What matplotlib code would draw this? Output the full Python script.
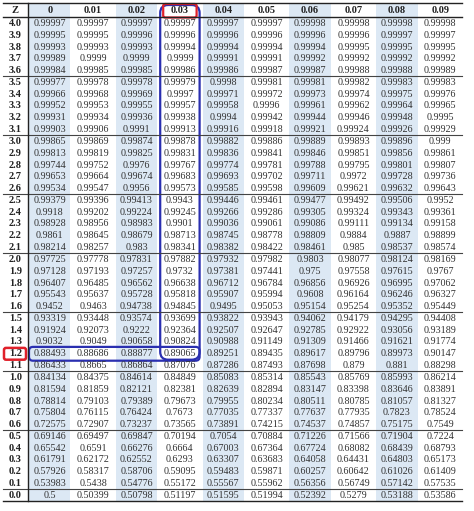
import matplotlib.pyplot as plt
from matplotlib.patches import Rectangle, FancyBboxPatch

col_labels = ["0", "0.01", "0.02", "0.03", "0.04", "0.05", "0.06", "0.07", "0.08", "0.09"]
z_labels = ["4.0", "3.9", "3.8", "3.7", "3.6", "3.5", "3.4", "3.3", "3.2", "3.1",
            "3.0", "2.9", "2.8", "2.7", "2.6", "2.5", "2.4", "2.3", "2.2", "2.1",
            "2.0", "1.9", "1.8", "1.7", "1.6", "1.5", "1.4", "1.3", "1.2", "1.1",
            "1.0", "0.9", "0.8", "0.7", "0.6", "0.5", "0.4", "0.3", "0.2", "0.1", "0.0"]

rows = [
    [0.99997, 0.99997, 0.99997, 0.99997, 0.99997, 0.99997, 0.99998, 0.99998, 0.99998, 0.99998],
    [0.99995, 0.99995, 0.99996, 0.99996, 0.99996, 0.99996, 0.99996, 0.99996, 0.99997, 0.99997],
    [0.99993, 0.99993, 0.99993, 0.99994, 0.99994, 0.99994, 0.99994, 0.99995, 0.99995, 0.99995],
    [0.99989, 0.99990, 0.99990, 0.99990, 0.99991, 0.99991, 0.99992, 0.99992, 0.99992, 0.99992],
    [0.99984, 0.99985, 0.99985, 0.99986, 0.99986, 0.99987, 0.99987, 0.99988, 0.99988, 0.99989],
    [0.99977, 0.99978, 0.99978, 0.99979, 0.99980, 0.99981, 0.99981, 0.99982, 0.99983, 0.99983],
    [0.99966, 0.99968, 0.99969, 0.99970, 0.99971, 0.99972, 0.99973, 0.99974, 0.99975, 0.99976],
    [0.99952, 0.99953, 0.99955, 0.99957, 0.99958, 0.99960, 0.99961, 0.99962, 0.99964, 0.99965],
    [0.99931, 0.99934, 0.99936, 0.99938, 0.99940, 0.99942, 0.99944, 0.99946, 0.99948, 0.99950],
    [0.99903, 0.99906, 0.99910, 0.99913, 0.99916, 0.99918, 0.99921, 0.99924, 0.99926, 0.99929],
    [0.99865, 0.99869, 0.99874, 0.99878, 0.99882, 0.99886, 0.99889, 0.99893, 0.99896, 0.99900],
    [0.99813, 0.99819, 0.99825, 0.99831, 0.99836, 0.99841, 0.99846, 0.99851, 0.99856, 0.99861],
    [0.99744, 0.99752, 0.99760, 0.99767, 0.99774, 0.99781, 0.99788, 0.99795, 0.99801, 0.99807],
    [0.99653, 0.99664, 0.99674, 0.99683, 0.99693, 0.99702, 0.99711, 0.99720, 0.99728, 0.99736],
    [0.99534, 0.99547, 0.99560, 0.99573, 0.99585, 0.99598, 0.99609, 0.99621, 0.99632, 0.99643],
    [0.99379, 0.99396, 0.99413, 0.99430, 0.99446, 0.99461, 0.99477, 0.99492, 0.99506, 0.99520],
    [0.99180, 0.99202, 0.99224, 0.99245, 0.99266, 0.99286, 0.99305, 0.99324, 0.99343, 0.99361],
    [0.98928, 0.98956, 0.98983, 0.99010, 0.99036, 0.99061, 0.99086, 0.99111, 0.99134, 0.99158],
    [0.98610, 0.98645, 0.98679, 0.98713, 0.98745, 0.98778, 0.98809, 0.98840, 0.98870, 0.98899],
    [0.98214, 0.98257, 0.98300, 0.98341, 0.98382, 0.98422, 0.98461, 0.98500, 0.98537, 0.98574],
    [0.97725, 0.97778, 0.97831, 0.97882, 0.97932, 0.97982, 0.98030, 0.98077, 0.98124, 0.98169],
    [0.97128, 0.97193, 0.97257, 0.97320, 0.97381, 0.97441, 0.97500, 0.97558, 0.97615, 0.97670],
    [0.96407, 0.96485, 0.96562, 0.96638, 0.96712, 0.96784, 0.96856, 0.96926, 0.96995, 0.97062],
    [0.95543, 0.95637, 0.95728, 0.95818, 0.95907, 0.95994, 0.96080, 0.96164, 0.96246, 0.96327],
    [0.94520, 0.94630, 0.94738, 0.94845, 0.94950, 0.95053, 0.95154, 0.95254, 0.95352, 0.95449],
    [0.93319, 0.93448, 0.93574, 0.93699, 0.93822, 0.93943, 0.94062, 0.94179, 0.94295, 0.94408],
    [0.91924, 0.92073, 0.92220, 0.92364, 0.92507, 0.92647, 0.92785, 0.92922, 0.93056, 0.93189],
    [0.90320, 0.90490, 0.90658, 0.90824, 0.90988, 0.91149, 0.91309, 0.91466, 0.91621, 0.91774],
    [0.88493, 0.88686, 0.88877, 0.89065, 0.89251, 0.89435, 0.89617, 0.89796, 0.89973, 0.90147],
    [0.86433, 0.86650, 0.86864, 0.87076, 0.87286, 0.87493, 0.87698, 0.87900, 0.88100, 0.88298],
    [0.84134, 0.84375, 0.84614, 0.84849, 0.85083, 0.85314, 0.85543, 0.85769, 0.85993, 0.86214],
    [0.81594, 0.81859, 0.82121, 0.82381, 0.82639, 0.82894, 0.83147, 0.83398, 0.83646, 0.83891],
    [0.78814, 0.79103, 0.79389, 0.79673, 0.79955, 0.80234, 0.80511, 0.80785, 0.81057, 0.81327],
    [0.75804, 0.76115, 0.76424, 0.76730, 0.77035, 0.77337, 0.77637, 0.77935, 0.78230, 0.78524],
    [0.72575, 0.72907, 0.73237, 0.73565, 0.73891, 0.74215, 0.74537, 0.74857, 0.75175, 0.75490],
    [0.69146, 0.69497, 0.69847, 0.70194, 0.70540, 0.70884, 0.71226, 0.71566, 0.71904, 0.72240],
    [0.65542, 0.65910, 0.66276, 0.66640, 0.67003, 0.67364, 0.67724, 0.68082, 0.68439, 0.68793],
    [0.61791, 0.62172, 0.62552, 0.62930, 0.63307, 0.63683, 0.64058, 0.64431, 0.64803, 0.65173],
    [0.57926, 0.58317, 0.58706, 0.59095, 0.59483, 0.59871, 0.60257, 0.60642, 0.61026, 0.61409],
    [0.53983, 0.54380, 0.54776, 0.55172, 0.55567, 0.55962, 0.56356, 0.56749, 0.57142, 0.57535],
    [0.50000, 0.50399, 0.50798, 0.51197, 0.51595, 0.51994, 0.52392, 0.52790, 0.53188, 0.53586],
]

fig = plt.figure(figsize=(4.74, 5.11), dpi=100)
ax = fig.add_axes([0, 0, 1, 1])
ax.set_xlim(0, 474)
ax.set_ylim(511, 0)
ax.axis('off')

x0, zw, cw = 3, 25, 43.4
y0, hh, rh = 3, 14.5, 11.8
shade = '#dce8f4'
txt = '#333333'
font = 'Liberation Serif'

col_x = [x0 + zw + i * cw for i in range(len(col_labels))]
bottom = y0 + hh + rh * len(z_labels)
right = col_x[-1] + cw

# shaded columns
for i, cx in enumerate(col_x):
    if i % 2 == 0:
        ax.add_patch(Rectangle((cx + 1, y0), cw - 2, bottom - y0, color=shade, lw=0))

# header
ax.text(x0 + zw / 2, y0 + hh / 2, "Z", ha='center', va='center', fontsize=7.5,
        fontweight='bold', family=font, color='#222222')
for cx, lab in zip(col_x, col_labels):
    ax.text(cx + cw / 2, y0 + hh / 2, lab, ha='center', va='center', fontsize=7.5,
            fontweight='bold', family=font, color='#222222')

# body
for r, (z, vals) in enumerate(zip(z_labels, rows)):
    yc = y0 + hh + (r + 0.5) * rh
    ax.text(x0 + zw / 2, yc, z, ha='center', va='center', fontsize=7.5,
            fontweight='bold', family=font, color='#222222')
    for cx, v in zip(col_x, vals):
        ax.text(cx + cw / 2, yc, repr(round(v, 5)), ha='center', va='center',
                fontsize=7.3, family=font, color=txt)

# rules
ax.plot([x0, right], [y0, y0], color='#222222', lw=1.0)
ax.plot([x0, right], [y0 + hh, y0 + hh], color='#222222', lw=1.0)
for g in range(5, len(z_labels), 5):
    yy = y0 + hh + g * rh
    ax.plot([x0, right], [yy, yy], color='#444444', lw=0.8)
ax.plot([x0, right], [bottom, bottom], color='#222222', lw=1.0)
ax.plot([x0 + zw, x0 + zw], [y0, bottom], color='#222222', lw=1.0)

# highlights
hi_col, hi_row = col_labels.index("0.03"), z_labels.index("1.2")
hx = col_x[hi_col]
row_top = y0 + hh + hi_row * rh
ax.add_patch(FancyBboxPatch((hx + 2, y0 + 2), cw - 4, row_top + rh - y0 - 2,
                            boxstyle="round,pad=0,rounding_size=8",
                            fill=False, ec='#2a2fb0', lw=1.6))
ax.add_patch(FancyBboxPatch((x0 + zw + 1, row_top - 1), hx + cw - 2 - (x0 + zw + 1), rh + 2,
                            boxstyle="round,pad=0,rounding_size=4",
                            fill=False, ec='#2a2fb0', lw=1.6))
ax.add_patch(FancyBboxPatch((hx + 5, y0 + 1), cw - 10, hh - 1,
                            boxstyle="round,pad=0,rounding_size=2",
                            fill=False, ec='#e0202a', lw=1.6))
ax.add_patch(FancyBboxPatch((x0 + 1, row_top), zw - 3, rh,
                            boxstyle="round,pad=0,rounding_size=2",
                            fill=False, ec='#e0202a', lw=1.8))

fig.savefig("out.png", dpi=100)
